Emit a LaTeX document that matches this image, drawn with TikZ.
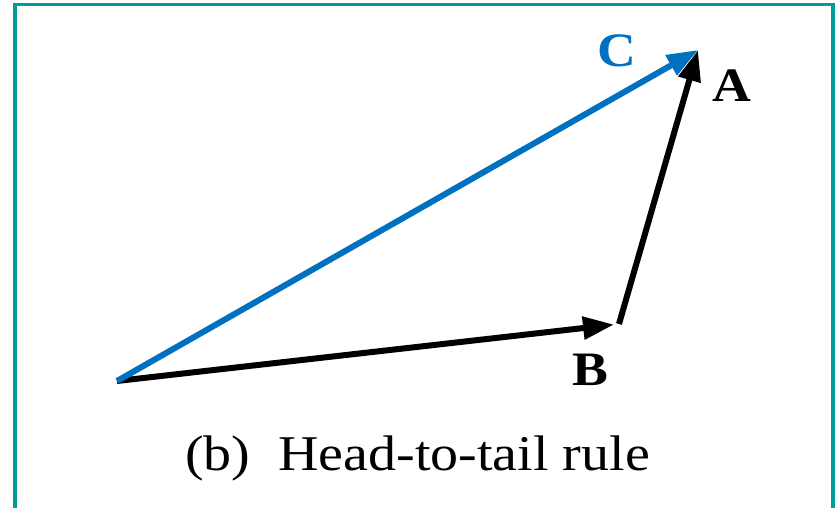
\documentclass[tikz,border=0pt]{standalone}
\usepackage{fontspec}
\setmainfont{Liberation Serif}
\usetikzlibrary{arrows.meta}
\definecolor{vecblue}{RGB}{0,112,192}
\definecolor{frameteal}{RGB}{0,155,155}
\tikzset{
  vec/.style={line width=6pt,-{Triangle[length=31pt,width=22pt]}},
  wide/.style={xscale=1.12,transform shape,inner sep=0pt,anchor=base},
  veclabel/.style={wide,font=\fontsize{48}{50}\selectfont\bfseries},
}

\begin{document}
\begin{tikzpicture}[x=1pt,y=-1pt]
\useasboundingbox (0,0) rectangle (839,508);

% ---------------- frame (open at the bottom) ----------------
\draw[frameteal,line width=3.2pt] (15,508) -- (15,4.3) -- (833,4.3) -- (833,508);

% ---------------- points ----------------
\coordinate (O) at (117,381);
\coordinate (B) at (619,324);
\coordinate (A) at (698,50);

% ---------------- vectors ----------------
\draw[vec,shorten >=5pt] (O) -- (B);
\draw[vec] (B) -- (A);
\draw[vec,vecblue] (O) -- (A);

% ---------------- labels ----------------
\node[veclabel] (labA) at (732,102) {A};
\node[veclabel] (labB) at (590,385) {B};
\node[veclabel,text=vecblue] (labC) at (617,67) {C};
\node[wide,font=\fontsize{50}{52}\selectfont] (caption) at (417.5,470)
  {(b)\ \ Head-to-tail rule};
\end{tikzpicture}
\end{document}
